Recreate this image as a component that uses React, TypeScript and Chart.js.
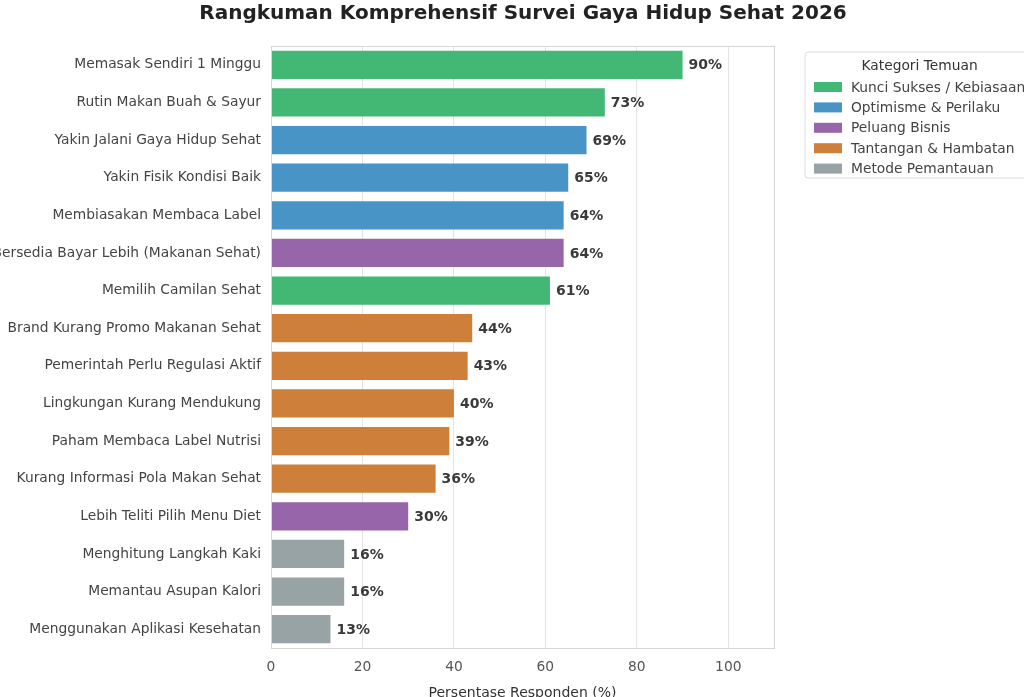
import React, { useEffect, useRef } from "react";
import { Chart, registerables } from "chart.js";

Chart.register(...registerables);

const chartTitle = "Rangkuman Komprehensif Survei Gaya Hidup Sehat 2026";
const xAxisTitle = "Persentase Responden (%)";
const legendTitle = "Kategori Temuan";

const labels = [
  "Memasak Sendiri 1 Minggu",
  "Rutin Makan Buah & Sayur",
  "Yakin Jalani Gaya Hidup Sehat",
  "Yakin Fisik Kondisi Baik",
  "Membiasakan Membaca Label",
  "Bersedia Bayar Lebih (Makanan Sehat)",
  "Memilih Camilan Sehat",
  "Brand Kurang Promo Makanan Sehat",
  "Pemerintah Perlu Regulasi Aktif",
  "Lingkungan Kurang Mendukung",
  "Paham Membaca Label Nutrisi",
  "Kurang Informasi Pola Makan Sehat",
  "Lebih Teliti Pilih Menu Diet",
  "Menghitung Langkah Kaki",
  "Memantau Asupan Kalori",
  "Menggunakan Aplikasi Kesehatan",
];

const values = [90, 73, 69, 65, 64, 64, 61, 44, 43, 40, 39, 36, 30, 16, 16, 13];

// index into the category list for each bar
const groupOf = [0, 0, 1, 1, 1, 2, 0, 3, 3, 3, 3, 3, 2, 4, 4, 4];

const categoryNames = [
  "Kunci Sukses / Kebiasaan",
  "Optimisme & Perilaku",
  "Peluang Bisnis",
  "Tantangan & Hambatan",
  "Metode Pemantauan",
];

const categoryColors = ["#42B874", "#4994C6", "#9665AA", "#CE803B", "#97A3A4"];

const xTicks = [0, 20, 40, 60, 80, 100];
const xMax = 110;

const FONT = "'DejaVu Sans', sans-serif";

const valueLabelPlugin = {
  id: "valueLabels",
  afterDatasetsDraw(chart: any) {
    const ctx = chart.ctx;
    const meta = chart.getDatasetMeta(0);
    ctx.save();
    ctx.font = `bold 14px ${FONT}`;
    ctx.fillStyle = "#3a3a3a";
    ctx.textAlign = "left";
    ctx.textBaseline = "middle";
    meta.data.forEach((el: any, i: number) => {
      ctx.fillText(`${values[i]}%`, el.x + 6, el.y + 1);
    });
    ctx.restore();
  },
};

const framePlugin = {
  id: "frame",
  afterDraw(chart: any) {
    const { ctx, chartArea } = chart;
    ctx.save();
    ctx.strokeStyle = "#d6d6d6";
    ctx.lineWidth = 1;
    ctx.strokeRect(
      Math.round(chartArea.left) + 0.5,
      Math.round(chartArea.top) + 0.5,
      Math.round(chartArea.right - chartArea.left),
      Math.round(chartArea.bottom - chartArea.top)
    );
    ctx.restore();
  },
};

const boxLegendPlugin = {
  id: "boxLegend",
  afterDraw(chart: any) {
    const { ctx, chartArea } = chart;
    const left = chartArea.right + 31;
    const top = chartArea.top + 6;
    const pad = 9;
    const patchW = 28;
    const patchH = 10;
    const gap = 9;
    const rowH = 20.4;
    ctx.save();
    ctx.font = `13.8px ${FONT}`;
    let maxW = 0;
    categoryNames.forEach((n) => {
      maxW = Math.max(maxW, ctx.measureText(n).width);
    });
    const w = pad + patchW + gap + maxW + pad;
    const h = 126;
    ctx.beginPath();
    const r = 3;
    ctx.moveTo(left + r, top);
    ctx.lineTo(left + w - r, top);
    ctx.quadraticCurveTo(left + w, top, left + w, top + r);
    ctx.lineTo(left + w, top + h - r);
    ctx.quadraticCurveTo(left + w, top + h, left + w - r, top + h);
    ctx.lineTo(left + r, top + h);
    ctx.quadraticCurveTo(left, top + h, left, top + h - r);
    ctx.lineTo(left, top + r);
    ctx.quadraticCurveTo(left, top, left + r, top);
    ctx.closePath();
    ctx.fillStyle = "rgba(255,255,255,0.9)";
    ctx.fill();
    ctx.strokeStyle = "#dddddd";
    ctx.lineWidth = 1;
    ctx.stroke();

    ctx.fillStyle = "#333333";
    ctx.textBaseline = "middle";
    ctx.textAlign = "center";
    ctx.fillText(legendTitle, left + w / 2, top + 14);
    ctx.textAlign = "left";
    categoryNames.forEach((n, i) => {
      const cy = top + 35 + i * rowH;
      ctx.fillStyle = categoryColors[i];
      ctx.fillRect(left + pad, cy - patchH / 2, patchW, patchH);
      ctx.fillStyle = "#444444";
      ctx.fillText(n, left + pad + patchW + gap, cy + 1);
    });
    ctx.restore();
  },
};

export default function App() {
  const canvasRef = useRef<HTMLCanvasElement | null>(null);

  useEffect(() => {
    if (!canvasRef.current) return;
    const chart = new Chart(canvasRef.current, {
      type: "bar",
      data: {
        labels,
        datasets: [
          {
            data: values,
            backgroundColor: groupOf.map((g) => categoryColors[g]),
            borderWidth: 0,
            barPercentage: 0.75,
            categoryPercentage: 1,
          },
        ],
      },
      options: {
        indexAxis: "y",
        responsive: false,
        animation: false,
        layout: { padding: { left: 0, right: 0, top: 0, bottom: 8 } },
        plugins: {
          legend: { display: false },
          tooltip: { enabled: false },
          title: {
            display: true,
            text: chartTitle,
            color: "#222222",
            font: { family: FONT, size: 20, weight: "bold" },
            padding: { top: 2, bottom: 20 },
          },
        },
        scales: {
          x: {
            type: "linear",
            min: 0,
            max: xMax,
            afterBuildTicks(scale: any) {
              scale.ticks = xTicks.map((v) => ({ value: v }));
            },
            afterFit(scale: any) {
              scale.height = 54;
            },
            ticks: {
              color: "#555555",
              font: { family: FONT, size: 13.8 },
              padding: 11,
            },
            grid: {
              color: "#e4e4e4",
              lineWidth: 1,
              drawTicks: false,
            },
            border: { display: false },
            title: {
              display: true,
              text: xAxisTitle,
              color: "#333333",
              font: { family: FONT, size: 14 },
              padding: { top: 0, bottom: 0 },
            },
          },
          y: {
            afterFit(scale: any) {
              scale.width = 271;
            },
            ticks: {
              color: "#444444",
              font: { family: FONT, size: 13.8 },
              padding: 10,
              autoSkip: false,
            },
            grid: { display: false, drawTicks: false },
            border: { display: false },
          },
          yRight: {
            type: "category",
            position: "right",
            afterFit(scale: any) {
              scale.width = 272;
            },
            ticks: { display: false },
            grid: { display: false, drawTicks: false },
            border: { display: false },
          },
        },
      },
      plugins: [valueLabelPlugin, framePlugin, boxLegendPlugin],
    });
    return () => chart.destroy();
  }, []);

  return (
    <div
      style={{
        position: "fixed",
        left: 0,
        top: 0,
        width: 1024,
        height: 697,
        overflow: "hidden",
        background: "#ffffff",
      }}
    >
      <canvas
        ref={canvasRef}
        width={1046}
        height={710}
        style={{ display: "block", width: 1046, height: 710 }}
      />
    </div>
  );
}
